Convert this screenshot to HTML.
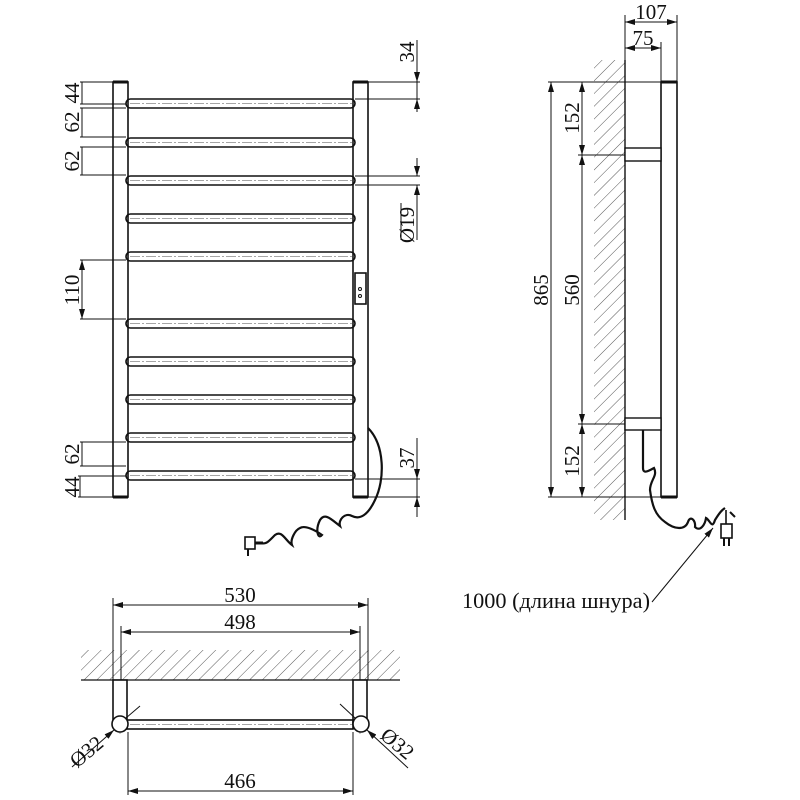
<!DOCTYPE html>
<html><head><meta charset="utf-8"><style>
html,body{margin:0;padding:0;background:#fff;}
svg{display:block;}
text{font-family:"Liberation Serif",serif;font-size:21px;fill:#111;}
</style></head><body>
<svg width="800" height="800" viewBox="0 0 800 800" xmlns="http://www.w3.org/2000/svg">
<defs>
<marker id="a" viewBox="0 0 10 6" refX="10" refY="3" markerWidth="10" markerHeight="6" orient="auto-start-reverse" markerUnits="userSpaceOnUse"><path d="M0,0 L10,3 L0,6 z" fill="#111"/></marker>
<pattern id="h" width="9" height="9" patternUnits="userSpaceOnUse" patternTransform="rotate(45)"><line x1="0" y1="0" x2="0" y2="9" stroke="#444" stroke-width="0.9"/></pattern>
</defs>
<g stroke="#111" fill="none" stroke-width="1">
<rect x="113" y="82" width="15" height="415" stroke-width="1.6"/>
<rect x="353" y="82" width="15" height="415" stroke-width="1.6"/>
<line x1="113" y1="82" x2="128" y2="82" stroke-width="3"/><line x1="353" y1="82" x2="368" y2="82" stroke-width="3"/>
<line x1="113" y1="497" x2="128" y2="497" stroke-width="3"/><line x1="353" y1="497" x2="368" y2="497" stroke-width="3"/>
<g stroke-width="1.6">
<rect x="126" y="99" width="229" height="9" rx="4.5"/>
<rect x="126" y="138" width="229" height="9" rx="4.5"/>
<rect x="126" y="176" width="229" height="9" rx="4.5"/>
<rect x="126" y="214" width="229" height="9" rx="4.5"/>
<rect x="126" y="252" width="229" height="9" rx="4.5"/>
<rect x="126" y="319" width="229" height="9" rx="4.5"/>
<rect x="126" y="357" width="229" height="9" rx="4.5"/>
<rect x="126" y="395" width="229" height="9" rx="4.5"/>
<rect x="126" y="433" width="229" height="9" rx="4.5"/>
<rect x="126" y="471" width="229" height="9" rx="4.5"/>
</g>
<g stroke="#888" stroke-width="0.8" stroke-dasharray="10,2,2,2">
<line x1="130" y1="103.5" x2="352" y2="103.5"/><line x1="130" y1="142.5" x2="352" y2="142.5"/>
<line x1="130" y1="180.5" x2="352" y2="180.5"/><line x1="130" y1="218.5" x2="352" y2="218.5"/>
<line x1="130" y1="256.5" x2="352" y2="256.5"/><line x1="130" y1="323.5" x2="352" y2="323.5"/>
<line x1="130" y1="361.5" x2="352" y2="361.5"/><line x1="130" y1="399.5" x2="352" y2="399.5"/>
<line x1="130" y1="437.5" x2="352" y2="437.5"/><line x1="130" y1="475.5" x2="352" y2="475.5"/>
<line x1="130" y1="724.5" x2="352" y2="724.5"/>
<line x1="120" y1="684" x2="120" y2="734"/><line x1="360" y1="684" x2="360" y2="734"/>
</g>
<rect x="355" y="273" width="11" height="31" stroke-width="1.6"/>
<circle cx="360" cy="289" r="1.5"/><circle cx="360" cy="296" r="1.5"/>
<line x1="82" y1="82" x2="82" y2="104"/><line x1="80" y1="82" x2="113" y2="82"/><line x1="80" y1="104" x2="126" y2="104"/>
<line x1="82" y1="108" x2="82" y2="137"/><line x1="80" y1="108" x2="126" y2="108"/><line x1="80" y1="137" x2="126" y2="137"/>
<line x1="82" y1="147" x2="82" y2="175"/><line x1="80" y1="147" x2="126" y2="147"/><line x1="80" y1="175" x2="126" y2="175"/>
<line x1="82" y1="260" x2="82" y2="319" marker-start="url(#a)" marker-end="url(#a)"/><line x1="80" y1="260" x2="126" y2="260"/><line x1="80" y1="319" x2="126" y2="319"/>
<line x1="82" y1="442" x2="82" y2="466"/><line x1="80" y1="442" x2="126" y2="442"/><line x1="80" y1="466" x2="126" y2="466"/>
<line x1="80" y1="476" x2="80" y2="497"/><line x1="78" y1="476" x2="126" y2="476"/><line x1="78" y1="497" x2="113" y2="497"/>
<line x1="417" y1="40" x2="417" y2="82" marker-end="url(#a)"/><line x1="417" y1="99" x2="417" y2="112" marker-start="url(#a)"/>
<line x1="417" y1="82" x2="417" y2="99"/>
<line x1="368" y1="82" x2="420" y2="82"/><line x1="355" y1="99" x2="420" y2="99"/>
<line x1="417" y1="158" x2="417" y2="176" marker-end="url(#a)"/><line x1="417" y1="185" x2="417" y2="240" marker-start="url(#a)"/>
<line x1="355" y1="176" x2="420" y2="176"/><line x1="355" y1="185" x2="420" y2="185"/>
<line x1="417" y1="438" x2="417" y2="479" marker-end="url(#a)"/><line x1="417" y1="497" x2="417" y2="517" marker-start="url(#a)"/>
<line x1="417" y1="479" x2="417" y2="497"/>
<line x1="355" y1="479" x2="420" y2="479"/><line x1="368" y1="497" x2="420" y2="497"/>
<line x1="401" y1="240" x2="401" y2="203"/>
<path d="M368,428 C385,445 385,480 375,500 C368,515 360,520 352,516 C345,512 338,520 340,526 C332,520 325,512 320,520 C315,530 318,540 322,535 C315,530 305,525 300,528 C295,530 290,540 292,545 C285,540 282,530 275,535 C270,540 266,545 262,543" stroke-width="2.2"/>
<rect x="245" y="537" width="10" height="12" stroke-width="1.6"/>
<line x1="255" y1="543" x2="263" y2="543" stroke-width="3"/>
<line x1="248" y1="549" x2="248" y2="556" stroke-width="2"/>
<rect x="594" y="60" width="31" height="460" fill="url(#h)" stroke="none"/>
<line x1="625" y1="60" x2="625" y2="520" stroke-width="1.4"/>
<rect x="661" y="82" width="16" height="415" stroke-width="1.6"/>
<line x1="661" y1="82" x2="677" y2="82" stroke-width="3"/><line x1="661" y1="497" x2="677" y2="497" stroke-width="3"/>
<rect x="625" y="148" width="36" height="13" stroke-width="1.4" fill="#fff"/>
<rect x="625" y="418" width="36" height="12" stroke-width="1.4" fill="#fff"/>
<line x1="625" y1="15" x2="625" y2="82"/><line x1="677" y1="15" x2="677" y2="82"/><line x1="661" y1="42" x2="661" y2="82"/>
<line x1="625" y1="22" x2="677" y2="22" marker-start="url(#a)" marker-end="url(#a)"/>
<line x1="625" y1="48" x2="661" y2="48" marker-start="url(#a)" marker-end="url(#a)"/>
<line x1="548" y1="82" x2="677" y2="82"/><line x1="548" y1="497" x2="661" y2="497"/>
<line x1="578" y1="155" x2="625" y2="155"/><line x1="578" y1="424" x2="625" y2="424"/>
<line x1="551" y1="82" x2="551" y2="497" marker-start="url(#a)" marker-end="url(#a)"/>
<line x1="582" y1="82" x2="582" y2="155" marker-start="url(#a)" marker-end="url(#a)"/>
<line x1="582" y1="155" x2="582" y2="424" marker-start="url(#a)" marker-end="url(#a)"/>
<line x1="582" y1="424" x2="582" y2="497" marker-start="url(#a)" marker-end="url(#a)"/>
<path d="M643,430 L643,468 C643,475 650,470 654,468 C658,476 650,480 650,490 C652,505 655,515 665,522 C675,530 685,530 688,522 C690,515 696,520 695,527 C700,532 705,525 706,518 C710,520 712,530 715,520 C720,512 722,510 725,508" stroke-width="2.2"/>
<path d="M726,510 L726,524" stroke-width="1.6"/>
<rect x="721" y="524" width="11" height="14" stroke-width="1.6"/>
<line x1="724" y1="538" x2="724" y2="546" stroke-width="2"/><line x1="729" y1="538" x2="729" y2="546" stroke-width="2"/>
<line x1="730" y1="512" x2="735" y2="517" stroke-width="2"/>
<line x1="652" y1="602" x2="713" y2="528" marker-end="url(#a)"/>
<rect x="81" y="650" width="319" height="30" fill="url(#h)" stroke="none"/>
<line x1="81" y1="680" x2="400" y2="680" stroke-width="1.2"/>
<rect x="113" y="680" width="14" height="44" stroke-width="1.6" fill="#fff"/>
<rect x="353" y="680" width="14" height="44" stroke-width="1.6" fill="#fff"/>
<rect x="127" y="720" width="226" height="9" stroke-width="1.6"/>
<circle cx="120" cy="724" r="8" stroke-width="1.6" fill="#fff"/>
<circle cx="361" cy="724" r="8" stroke-width="1.6" fill="#fff"/>
<line x1="113" y1="598" x2="113" y2="680"/><line x1="368" y1="598" x2="368" y2="680"/>
<line x1="121" y1="626" x2="121" y2="680"/><line x1="360" y1="626" x2="360" y2="680"/>
<line x1="113" y1="605" x2="368" y2="605" marker-start="url(#a)" marker-end="url(#a)"/>
<line x1="121" y1="632" x2="360" y2="632" marker-start="url(#a)" marker-end="url(#a)"/>
<line x1="128" y1="732" x2="128" y2="795"/><line x1="353" y1="732" x2="353" y2="795"/>
<line x1="128" y1="791" x2="353" y2="791" marker-start="url(#a)" marker-end="url(#a)"/>
<line x1="72" y1="767" x2="114" y2="730" marker-end="url(#a)"/><line x1="126" y1="718" x2="140" y2="706"/>
<line x1="408" y1="768" x2="367" y2="730" marker-end="url(#a)"/><line x1="355" y1="718" x2="340" y2="704"/>
</g>
<text transform="translate(79,93) rotate(-90)" text-anchor="middle">44</text>
<text transform="translate(79,122) rotate(-90)" text-anchor="middle">62</text>
<text transform="translate(79,161) rotate(-90)" text-anchor="middle">62</text>
<text transform="translate(79,290) rotate(-90)" text-anchor="middle">110</text>
<text transform="translate(79,454) rotate(-90)" text-anchor="middle">62</text>
<text transform="translate(79,487) rotate(-90)" text-anchor="middle">44</text>
<text transform="translate(414,52) rotate(-90)" text-anchor="middle">34</text>
<text transform="translate(414,225) rotate(-90)" text-anchor="middle">Ø19</text>
<text transform="translate(414,458) rotate(-90)" text-anchor="middle">37</text>
<text x="651" y="19" text-anchor="middle">107</text>
<text x="643" y="45" text-anchor="middle">75</text>
<text transform="translate(548,290) rotate(-90)" text-anchor="middle">865</text>
<text transform="translate(579,118) rotate(-90)" text-anchor="middle">152</text>
<text transform="translate(579,290) rotate(-90)" text-anchor="middle">560</text>
<text transform="translate(579,461) rotate(-90)" text-anchor="middle">152</text>
<text x="462" y="608" style="font-size:22px" textLength="188" lengthAdjust="spacingAndGlyphs">1000 (длина шнура)</text>
<text x="240" y="602" text-anchor="middle">530</text>
<text x="240" y="629" text-anchor="middle">498</text>
<text x="240" y="788" text-anchor="middle">466</text>
<text transform="translate(91,757) rotate(-40)" text-anchor="middle">Ø32</text>
<text transform="translate(393,749) rotate(40)" text-anchor="middle">Ø32</text>
</svg>
</body></html>
